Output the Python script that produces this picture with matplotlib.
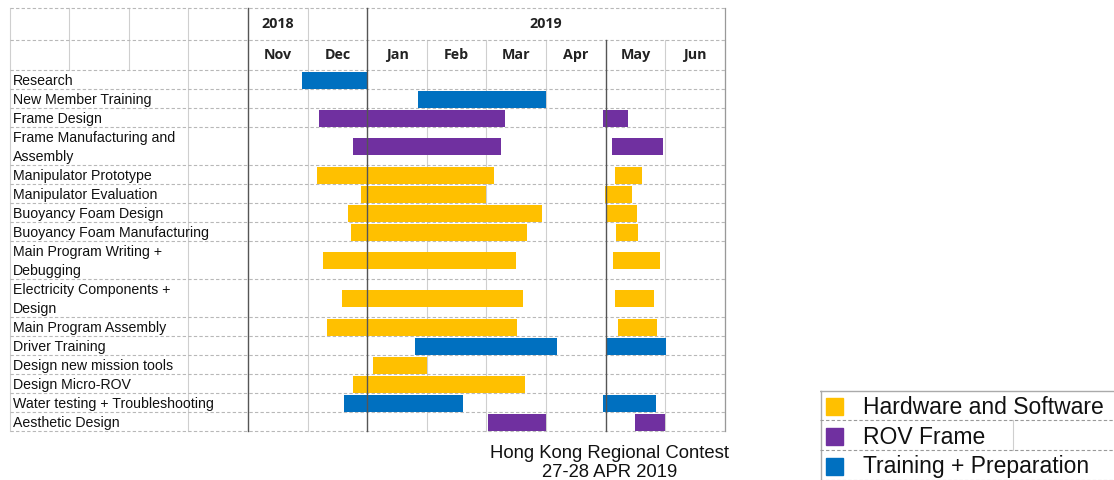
import matplotlib.pyplot as plt
from matplotlib.patches import Rectangle

# Données : mois comptés depuis le 1er novembre 2018 (0 = Nov, 2 = Jan 2019 ...)
tasks = ["Research", "New Member Training", "Frame Design",
         "Frame Manufacturing and\nAssembly", "Manipulator Prototype",
         "Manipulator Evaluation", "Buoyancy Foam Design",
         "Buoyancy Foam Manufacturing", "Main Program Writing +\nDebugging",
         "Electricity Components +\nDesign", "Main Program Assembly",
         "Driver Training", "Design new mission tools", "Design Micro-ROV",
         "Water testing + Troubleshooting", "Aesthetic Design"]
category = ["train", "train", "frame", "frame", "hw", "hw", "hw", "hw",
            "hw", "hw", "hw", "train", "hw", "hw", "train", "frame"]
start1 = [0.90, 2.86, 1.19, 1.77, 1.15, 1.89, 1.68, 1.72,
          1.25, 1.57, 1.33, 2.81, 2.09, 1.76, 1.61, 4.03]
end1 = [2.00, 5.00, 4.32, 4.24, 4.13, 3.99, 4.93, 4.68,
        4.49, 4.61, 4.52, 5.18, 3.01, 4.64, 3.61, 5.00]
start2 = [None, None, 5.95, 6.11, 6.16, 5.99, 6.03, 6.17,
          6.13, 6.16, 6.21, 6.00, None, None, 5.96, 6.50]
end2 = [None, None, 6.37, 6.97, 6.61, 6.44, 6.53, 6.55,
        6.92, 6.81, 6.87, 7.02, None, None, 6.84, 6.99]
months = ["Nov", "Dec", "Jan", "Feb", "Mar", "Apr", "May", "Jun"]

colors = {"hw": "#FFC000", "frame": "#7030A0", "train": "#0070C0"}
legend_labels = [("hw", "Hardware and Software"), ("frame", "ROV Frame"),
                 ("train", "Training + Preparation")]

grid_c = "#cfcfcf"
dark_c = "#555555"

fig = plt.figure(figsize=(11.14, 4.8), dpi=100)
ax = fig.add_axes([0, 0, 1, 1])
ax.set_xlim(-4.161, 14.53)
ax.set_ylim(21.58, -3.68)
ax.axis("off")

top, mid = -3.26, -1.58
left, right = -4.0, 8.0

# hauteur des lignes selon le nombre de lignes du libellé
heights = [t.count("\n") + 1 for t in tasks]
bounds = [0]
for h in heights:
    bounds.append(bounds[-1] + h)
bottom = bounds[-1]

# grille du tableau
for x in range(1, 9):
    if x in (2, 6):
        continue
    y0 = top if x == 1 else mid
    ax.plot([x, x], [y0, bottom], color=grid_c, lw=0.8, zorder=1)
ax.plot([right, right], [top, bottom], color="#999999", lw=0.9, zorder=1)
for x in (-3, -2):
    ax.plot([x, x], [top, 0], color=grid_c, lw=0.8, zorder=1)
ax.plot([-1, -1], [top, bottom], color=grid_c, lw=0.8, zorder=1)
ax.plot([left, left], [top, bottom], color=grid_c, lw=0.8, zorder=1)
for y in [top, mid] + bounds:
    ax.plot([left, right], [y, y], color="#b8b8b8", lw=0.8, ls=(0, (3, 2)), zorder=1)

ax.plot([0, 0], [top, bottom], color=dark_c, lw=1.0, zorder=4)
ax.plot([2, 2], [top, bottom], color=dark_c, lw=1.0, zorder=4)
ax.plot([6, 6], [mid, bottom], color=dark_c, lw=1.0, zorder=4)

# en-têtes
hfont = dict(family="Open Sans", fontweight="bold", fontsize=10.3, color="#222222")
ax.text(0.5, (top + mid) / 2, "2018", ha="center", va="center", **hfont)
ax.text(5.0, (top + mid) / 2, "2019", ha="center", va="center", **hfont)
for i, m in enumerate(months):
    ax.text(i + 0.5, mid / 2, m, ha="center", va="center", **hfont)

# tâches
for i, t in enumerate(tasks):
    yc = (bounds[i] + bounds[i + 1]) / 2
    ax.text(-3.95, yc + 0.08, t, ha="left", va="center", fontsize=10.2,
            family="Liberation Sans", color="#111111", linespacing=1.45, zorder=3)
    c = colors[category[i]]
    ax.barh(yc + 0.05, end1[i] - start1[i], left=start1[i], height=0.9,
            color=c, zorder=3)
    if start2[i] is not None:
        ax.barh(yc + 0.05, end2[i] - start2[i], left=start2[i], height=0.9,
                color=c, zorder=3)

ax.text(6.07, 19.72, "Hong Kong Regional Contest\n27-28 APR 2019", ha="center",
        va="top", fontsize=13.3, family="Liberation Sans", color="#111111",
        linespacing=1.15)

# légende
lax = fig.add_axes([820 / 1114, 0, 294 / 1114, 92 / 480])
lax.set_xlim(0, 294)
lax.set_ylim(92, 0)
lax.axis("off")
lax.plot([0, 294], [3, 3], color="#aaaaaa", lw=1)
lax.plot([0.5, 0.5], [3, 92], color="#aaaaaa", lw=1)
lax.plot([193, 193], [32, 62], color=grid_c, lw=0.8)
for k, (key, lab) in enumerate(legend_labels):
    yc = 18 + 30 * k
    lax.add_patch(Rectangle((6, yc - 8), 17, 17, color=colors[key]))
    lax.text(43, yc + 1, lab, ha="left", va="center", fontsize=16.5,
             family="Liberation Sans", color="#111111")
    lax.plot([0, 294], [yc + 14, yc + 14], color="#999999", lw=0.8,
             ls=(0, (3, 2)))

fig.savefig("out.png", dpi=100)
